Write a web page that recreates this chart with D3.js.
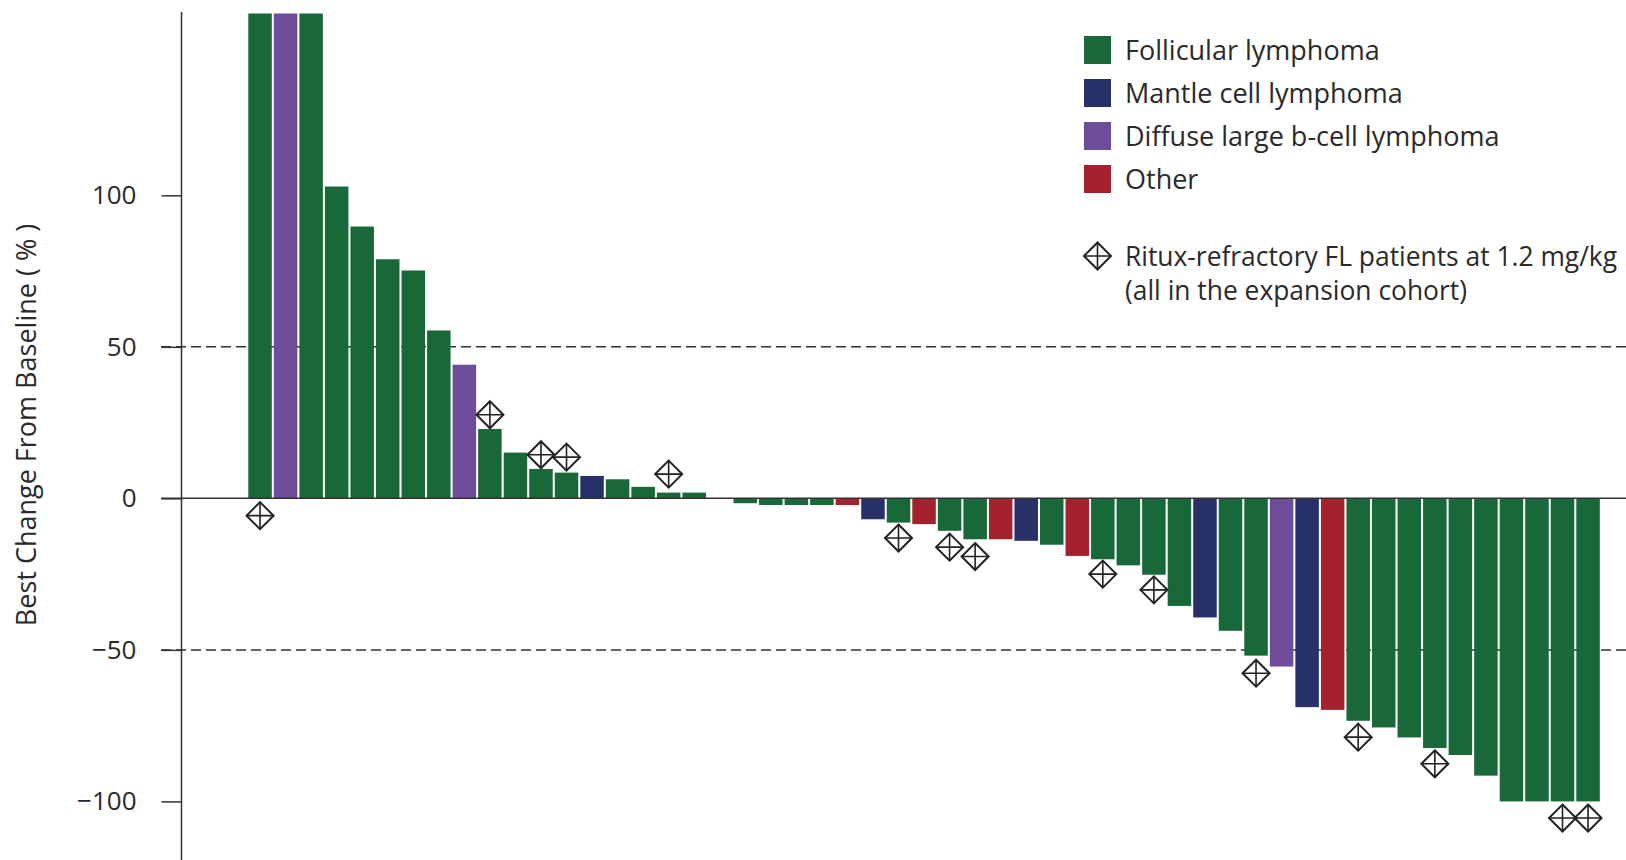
<!DOCTYPE html>
<html>
<head>
<meta charset="utf-8">
<script src="https://cdn.jsdelivr.net/npm/d3@7/dist/d3.min.js"></script>
<style>
  html, body { margin: 0; padding: 0; background: #fff; }
  svg { display: block; }
  text { font-family: "Open Sans", "Noto Sans", sans-serif; fill: #2a2a2a; }
</style>
</head>
<body>
<svg id="chart" width="1626" height="860"></svg>
<script>
// ---- Data ----
const patients = d3.range(1, 54);
const types = [
  "FL","DLBCL","FL","FL","FL","FL","FL","FL","DLBCL","FL",
  "FL","FL","FL","MCL","FL","FL","FL","FL","FL","FL",
  "FL","FL","FL","Other","MCL","FL","Other","FL","FL","Other",
  "MCL","FL","Other","FL","FL","FL","FL","MCL","FL","FL",
  "DLBCL","MCL","Other","FL","FL","FL","FL","FL","FL","FL",
  "FL","FL","FL"
];
const values = [
  160, 160, 160, 102.9, 89.7, 78.9, 75.2, 55.4, 44.1, 22.9,
  15.1, 9.7, 8.5, 7.4, 6.3, 3.8, 1.9, 1.9, 0, -1.6,
  -2.2, -2.2, -2.2, -2.2, -6.9, -8.0, -8.5, -10.7, -13.5, -13.5,
  -14.0, -15.3, -19.0, -20.1, -22.1, -25.2, -35.5, -39.3, -43.7, -51.9,
  -55.5, -68.9, -69.8, -73.4, -75.6, -78.9, -82.4, -84.7, -91.5, -100,
  -100, -100, -100
];
// Ritux-refractory FL markers: patient number and marker position (%)
const markerPatients = [1, 10, 12, 13, 17, 26, 28, 29, 34, 36, 40, 44, 47, 52, 53];
const markerValues   = [-5.7, 27.6, 14.4, 13.6, 8.0, -13.1, -16.1, -19.2, -25.0, -30.2, -57.7, -78.8, -87.6, -105.5, -105.5];

const typeKeys   = ["FL", "MCL", "DLBCL", "Other"];
const typeLabels = ["Follicular lymphoma", "Mantle cell lymphoma", "Diffuse large b-cell lymphoma", "Other"];
const typeColors = ["#19683a", "#273067", "#6d4c9a", "#a3222d"];
const tickValues = [100, 50, 0, -50, -100];
const refLines   = [50, -50];
const yTitle = "Best Change From Baseline ( % )";
const markerLabel1 = "Ritux-refractory FL patients at 1.2 mg/kg";
const markerLabel2 = "(all in the expansion cohort)";

// ---- Layout ----
const svg = d3.select("#chart");
const W = 1626, H = 860;
const axisX = 181.5;

const x = d3.scaleBand().domain(patients).range([248.3, 1599.8]).paddingInner(0.08).paddingOuter(0);
const y = d3.scaleLinear().domain([-120, 160]).range([862, 13.5]);
const color = d3.scaleOrdinal().domain(typeKeys).range(typeColors);

// reference dashed lines
svg.append("g").selectAll("line").data(refLines).join("line")
  .attr("x1", 161).attr("x2", W)
  .attr("y1", d => y(d)).attr("y2", d => y(d))
  .attr("stroke", "#333").attr("stroke-width", 1.5)
  .attr("stroke-dasharray", "10,5");

// bars
const bars = patients.map((p, i) => ({ p, v: values[i], t: types[i] }));
svg.append("g").selectAll("rect").data(bars).join("rect")
  .attr("x", d => x(d.p))
  .attr("width", x.bandwidth())
  .attr("y", d => y(Math.max(0, d.v)))
  .attr("height", d => Math.abs(y(d.v) - y(0)))
  .attr("fill", d => color(d.t));

// zero line
svg.append("line")
  .attr("x1", 161).attr("x2", W)
  .attr("y1", y(0)).attr("y2", y(0))
  .attr("stroke", "#333").attr("stroke-width", 1.5);

// y axis
const yAxis = d3.axisLeft(y).tickValues(tickValues).tickSize(20).tickPadding(25)
  .tickFormat(d => d < 0 ? "\u2212" + Math.abs(d) : String(d));
const gAxis = svg.append("g").attr("transform", `translate(${axisX},0)`).call(yAxis);
gAxis.select(".domain").remove();
gAxis.selectAll(".tick line").attr("stroke", "#333").attr("stroke-width", 1.5);
gAxis.selectAll(".tick text").attr("font-size", 26).attr("fill", "#2a2a2a")
  .attr("font-family", "\"Open Sans\", sans-serif");
svg.append("line")
  .attr("x1", axisX).attr("x2", axisX)
  .attr("y1", 12).attr("y2", H)
  .attr("stroke", "#333").attr("stroke-width", 1.5);

// y title
svg.append("text")
  .attr("transform", `translate(36,${425}) rotate(-90)`)
  .attr("text-anchor", "middle")
  .attr("font-size", 27)
  .text(yTitle);

// diamond marker drawer
function diamond(g, cx, cy, r) {
  g.append("path")
    .attr("d", `M${cx},${cy - r}L${cx + r},${cy}L${cx},${cy + r}L${cx - r},${cy}Z`)
    .attr("fill", "none").attr("stroke", "#222").attr("stroke-width", 2);
  g.append("path")
    .attr("d", `M${cx},${cy - r}V${cy + r}M${cx - r},${cy}H${cx + r}`)
    .attr("stroke", "#222").attr("stroke-width", 1.6);
}
const gm = svg.append("g");
markerPatients.forEach((p, i) => {
  diamond(gm, x(p) + x.bandwidth() / 2, y(markerValues[i]), 13.5);
});

// legend
const lg = svg.append("g");
typeKeys.forEach((k, i) => {
  const cy = 50 + i * 43;
  lg.append("rect").attr("x", 1084).attr("y", cy - 14).attr("width", 27).attr("height", 28)
    .attr("fill", color(k));
  lg.append("text").attr("x", 1125).attr("y", cy).attr("dy", "0.36em")
    .attr("font-size", 27).text(typeLabels[i]);
});
diamond(lg, 1097.5, 256, 13.5);
lg.append("text").attr("x", 1125).attr("y", 256).attr("dy", "0.36em").attr("font-size", 26.4).text(markerLabel1);
lg.append("text").attr("x", 1125).attr("y", 290).attr("dy", "0.36em").attr("font-size", 26.4).text(markerLabel2);
</script>
</body>
</html>
